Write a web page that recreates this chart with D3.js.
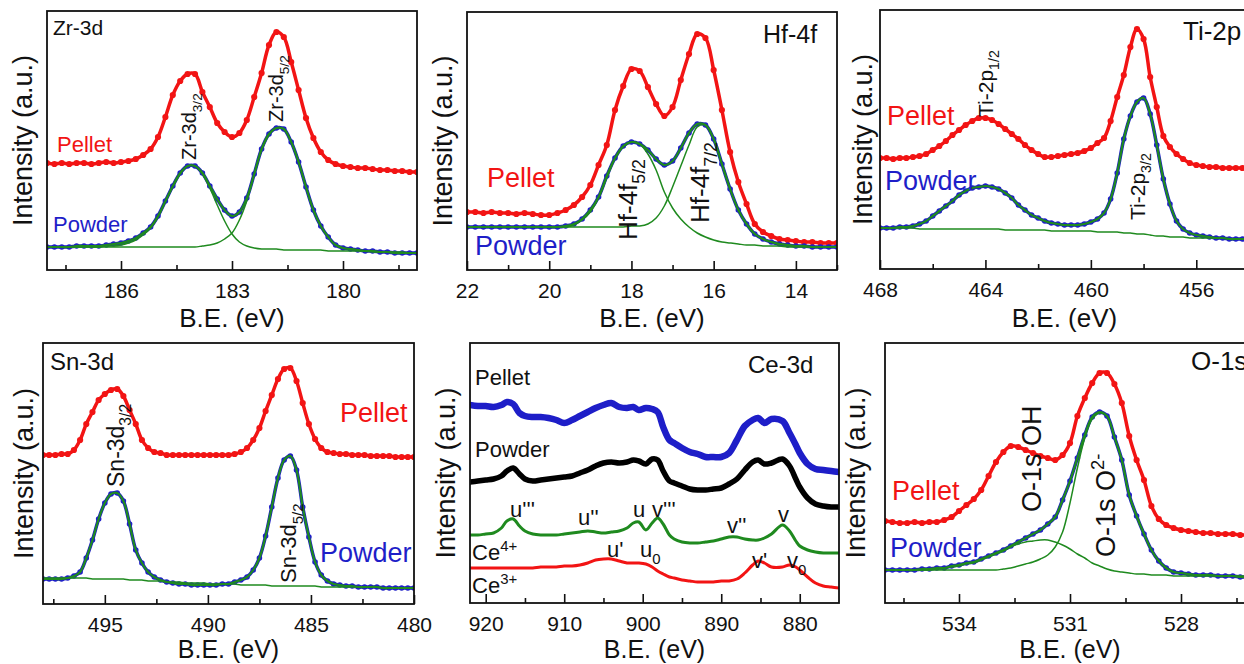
<!DOCTYPE html>
<html>
<head>
<meta charset="utf-8">
<script src="https://cdn.jsdelivr.net/npm/d3@7"></script>
<style>
  body { margin: 0; background: #fff; }
  svg  { display: block; font-family: "Liberation Sans", Arial, sans-serif; }
</style>
</head>
<body>
<svg id="fig" width="1244" height="664"></svg>
<script>
// ----- Data (intensity in arbitrary units) -----

// Zr-3d
const zrBE = [188.0,187.8,187.6,187.4,187.2,187.0,186.8,186.6,186.4,186.2,186.0,185.8,185.6,185.4,185.2,185.0,184.8,184.6,184.4,184.2,184.0,183.8,183.6,183.4,183.2,183.0,182.8,182.6,182.4,182.2,182.0,181.8,181.6,181.4,181.2,181.0,180.8,180.6,180.4,180.2,180.0,179.8,179.6,179.4,179.2,179.0,178.8,178.6,178.4,178.2,178.0];
const zrPellet = [107,106,107,106,107,107,106,107,108,107, 108,109,111,115,121,133,153,175,189,196, 196,178,163,147,138,133,137,150,173,197, 225,238,233,208,180,152,132,118,110,106, 104,103,102,102,101,100,100,99,99,98,98];
const zrPowder = [23,23,23,23,24,24,24,24,25,26, 27,29,32,37,43,54,69,84,97,104, 104,97,84,71,60,54,58,72,96,121, 136,142,141,128,108,83,60,44,33,25, 22,21,20,19,19,18,18,17,17,17,17];
const zrPeak32 = [23,23,23,23,23,23,23,23,24,24, 25,27,30,35,42,53,68,83,96,104, 104,96,82,65,49,36,28,24,22,21, 21,21,20,20,20,20,20,20,19,19, 19,19,19,19,18,18,18,18,18,17,17];
const zrPeak52 = [23,23,23,23,23,23,23,23,23,23, 23,23,23,23,23,23,23,23,23,23, 23,24,25,27,31,37,50,69,95,120, 135,142,141,128,108,83,60,44,33,25, 22,21,20,19,19,18,18,17,17,17,17];
const zrMajor = [186, 183, 180];
const zrMinor = [187.5, 184.5, 181.5, 178.5];

// Hf-4f
const hfBE = [22.0,21.8,21.6,21.4,21.2,21.0,20.8,20.6,20.4,20.2,20.0,19.8,19.6,19.4,19.2,19.0,18.8,18.6,18.4,18.2,18.0,17.8,17.6,17.4,17.2,17.0,16.8,16.6,16.4,16.2,16.0,15.8,15.6,15.4,15.2,15.0,14.8,14.6,14.4,14.2,14.0,13.8,13.6,13.4,13.2,13.0];
const hfPellet = [58,58,57,58,57,57,56,57,56,55, 55,57,60,65,73,85,105,125,160,184, 201,199,183,166,154,163,190,216,236,232, 200,160,118,88,66,46,38,34,31,30, 29,28,28,27,27,27];
const hfPowder = [43,43,43,43,43,43,43,43,43,43, 43,43,44,46,51,60,73,94,112,124, 128,126,120,111,105,109,122,137,146,145, 131,106,81,60,46,36,31,28,26,25, 24,24,23,23,23,23];
const hfPeak52 = [43,43,43,43,43,43,43,43,43,43, 43,43,43,45,50,58,72,92,111,123, 128,126,116,100,78,62,51,43,37,33, 30,28,27,26,25,25,24,24,24,23, 23,23,23,23,23,23];
const hfPeak72 = [43,43,43,43,43,43,43,43,43,43, 43,43,43,43,43,43,43,43,43,43, 44,44,46,52,64,83,104,125,143,145, 131,106,81,60,46,36,31,28,26,25, 24,24,23,23,23,23];
const hfMajor = [22, 20, 18, 16, 14];
const hfMinor = [21, 19, 17, 15, 13];

// Ti-2p
const tiBE = [468.0,467.75,467.5,467.25,467.0,466.75,466.5,466.25,466.0,465.75,465.5,465.25,465.0,464.75,464.5,464.25,464.0,463.75,463.5,463.25,463.0,462.75,462.5,462.25,462.0,461.75,461.5,461.25,461.0,460.75,460.5,460.25,460.0,459.75,459.5,459.25,459.0,458.75,458.5,458.25,458.0,457.75,457.5,457.25,457.0,456.75,456.5,456.25,456.0,455.75,455.5,455.25,455.0,454.75,454.5,454.25,454.0];
const tiPellet = [111,111,110,111,111,112,113,115,119,123, 128,134,139,144,148,151,151,149,145,140, 135,130,124,119,115,112,112,113,114,115, 116,118,121,126,131,148,172,194,222,240, 230,192,162,133,122,115,110,106,104,103, 102,102,101,101,101,101,101];
const tiPowder = [41,41,41,42,42,43,45,48,53,58, 63,68,74,78,81,82,83,82,80,76, 71,64,59,54,51,48,46,45,44,44, 44,45,47,50,56,70,96,130,153,167, 171,155,124,90,65,48,40,36,34,33, 32,31,31,30,30,30,30];
const tiBackground = [41,41,41,41,41,41,40,40,40,40, 40,40,40,40,40,40,40,40,40,39, 39,39,39,39,39,39,38,38,38,38, 38,38,38,37,37,37,37,36,36,35, 35,34,33,33,32,32,32,31,31,31, 31,31,31,30,30,30,30];
const tiMajor = [468, 464, 460, 456];
const tiMinor = [466, 462, 458, 454];

// Sn-3d
const snBE = [498.0,497.7,497.4,497.1,496.8,496.5,496.2,495.9,495.6,495.3,495.0,494.7,494.4,494.1,493.8,493.5,493.2,492.9,492.6,492.3,492.0,491.7,491.4,491.1,490.8,490.5,490.2,489.9,489.6,489.3,489.0,488.7,488.4,488.1,487.8,487.5,487.2,486.9,486.6,486.3,486.0,485.7,485.4,485.1,484.8,484.5,484.2,483.9,483.6,483.3,483.0,482.7,482.4,482.1,481.8,481.5,481.2,480.9,480.6,480.3,480.0];
const snPellet = [149,149,149,150,150,154,164,180,192,204, 210,214,215,208,194,180,164,156,152,151, 149,149,149,149,149,149,149,149,149,149, 149,150,152,156,164,176,193,209,225,235, 236,223,201,180,165,156,152,151,150,150, 149,149,149,148,148,148,148,147,147,147,147];
const snPowder = [25,25,25,25,26,28,32,46,64,85, 101,110,111,103,80,54,41,32,27,24, 22,21,20,20,19,19,19,19,19,20, 20,22,24,27,34,46,68,97,126,144, 148,134,97,67,42,29,23,20,19,18, 18,17,17,17,17,16,16,16,16,16,16];
const snBackground = [26,26,26,26,26,26,26,26,25,25, 25,25,25,25,24,24,24,23,23,23, 22,22,22,21,21,21,21,20,20,20, 20,20,19,19,19,19,19,18,18,18, 18,18,18,18,18,17,17,17,17,17, 17,17,17,17,17,16,16,16,16,16,16];
const snMajor = [495, 490, 485, 480];
const snMinor = [497.5, 492.5, 487.5, 482.5];

// Ce-3d
const ceBE = [922,921,920,919,918,917.3,916.5,915.7,915,914, 913,912,911,910,909,908,907,906,905,904, 903,902,901.2,900.5,899.6,898.8,898.1,897.4,896.6,896, 895,894,893,892,891,890,889,888,887,886, 885.3,884.5,883.6,882.2,881.3,880.5,880,879,878,877, 876,875];
const cePellet = [198,197,197,196,198,201,199,190,187,186, 186,185,183,180,183,187,191,195,198,200, 196,195,196,193,195,194,191,176,163,160, 155,151,149,146,146,146,150,163,177,183, 185,180,184,182,170,158,150,139,134,133, 132,131];
const cePowder = [121,122,123,124,127,132,135,129,124,122, 123,124,125,126,127,130,133,137,140,141, 140,141,143,142,139,144,143,132,122,120, 117,114,113,113,114,115,119,124,133,141, 143,139,140,144,137,124,116,105,99,97, 96,96];
const ceCe4 = [68,68,69,70,75,82,84,77,72,69, 68,68,68,69,70,71,72,71,70,71, 72,75,80,81,73,80,85,79,68,64, 61,60,60,61,62,64,66,66,64,63, 63,65,69,78,72,62,57,53,51,50, 50,50];
const ceCe3 = [35,35,35,35,35,35,35,35,35,35, 36,36,36,37,37,38,40,43,44,44, 42,40,40,40,39,36,32,29,26,25, 23,22,21,21,21,22,22,24,30,38, 42,40,36,36,38,36,33,26,20,17, 16,15];
const ceMajor = [920, 910, 900, 890, 880];
const ceMinor = [915, 905, 895, 885];

// O-1s
const oBE = [536.0,535.8,535.6,535.4,535.2,535.0,534.8,534.6,534.4,534.2,534.0,533.8,533.6,533.4,533.2,533.0,532.8,532.6,532.4,532.2,532.0,531.8,531.6,531.4,531.2,531.0,530.8,530.6,530.4,530.2,530.0,529.8,529.6,529.4,529.2,529.0,528.8,528.6,528.4,528.2,528.0,527.8,527.6,527.4,527.2,527.0,526.8,526.6,526.4,526.2,526.0];
const oPellet = [82,81,80,80,81,80,81,81,83,86, 92,98,104,113,127,141,151,157,156,153, 150,147,145,143,148,160,187,205,220,230, 230,219,200,167,143,123,97,84,78,75, 73,72,71,70,70,69,69,69,68,68,68];
const oPowder = [33,33,33,33,33,34,34,35,35,37, 38,40,41,44,47,50,53,57,61,65, 69,73,79,86,103,122,145,168,186,191, 187,166,143,108,87,69,53,42,35,31, 30,29,28,28,28,27,27,27,26,26,26];
const oPeakOH = [33,33,33,33,33,33,33,34,35,36, 37,39,40,43,46,49,52,56,59,61, 62,63,63,61,58,54,49,45,40,37, 34,32,31,30,29,29,28,28,28,27, 27,27,27,27,27,27,27,27,27,27,27];
const oPeakO2 = [33,33,33,33,33,33,33,33,33,33, 33,33,33,33,33,33,34,35,37,39, 41,44,48,56,71,100,135,165,184,190, 187,166,143,108,87,69,53,42,35,31, 30,29,28,28,28,27,27,27,26,26,26];
const oMajor = [534, 531, 528];
const oMinor = [535.5, 532.5, 529.5, 526.5];

// ----- Styles -----
const RED   = "#f21414";
const BLUE  = "#1e1ec8";
const GREEN = "#1f8a1f";
const INK   = "#111111";

const svg = d3.select("#fig");

// ---------- Text helper ----------
// parts: [text, "sub" | "sup" | undefined]
function addText(opt) {
  const t = svg.append("text")
    .attr("font-size", opt.size)
    .attr("fill", opt.color || INK)
    .attr("text-anchor", opt.anchor || "start");

  if (opt.rotate) {
    t.attr("transform", `translate(${opt.x},${opt.y}) rotate(-90)`);
  } else {
    t.attr("x", opt.x).attr("y", opt.y);
  }

  const parts = typeof opt.text === "string" ? [[opt.text]] : opt.text;
  let shift = 0;
  parts.forEach(([str, kind]) => {
    const sp = t.append("tspan").text(str);
    let target = 0;
    if (kind === "sub") target = 0.3 * opt.size;
    if (kind === "sup") target = -0.4 * opt.size;
    if (kind) sp.attr("font-size", opt.size * 0.68);
    if (target !== shift) {
      sp.attr("dy", target - shift);
      shift = target;
    }
  });
  return t;
}

// ---------- Panel ----------
function drawPanel(p) {
  const g = svg.append("g").attr("transform", `translate(${p.x},${p.y})`);

  const x = d3.scaleLinear().domain(p.domain).range([0, p.w]);
  const y = d3.scaleLinear().domain([0, p.h]).range([p.h, 0]);

  const clipId = "clip-" + p.id;
  g.append("clipPath").attr("id", clipId)
    .append("rect").attr("width", p.w).attr("height", p.h);

  const plot = g.append("g").attr("clip-path", `url(#${clipId})`);

  const line = d3.line()
    .x(d => x(d[0]))
    .y(d => y(d[1]))
    .curve(d3.curveCatmullRom.alpha(0.5));

  p.series.forEach(s => {
    const pts = p.be.map((b, i) => [b, s.values[i]]);

    plot.append("path")
      .datum(pts)
      .attr("d", line)
      .attr("fill", "none")
      .attr("stroke", s.color)
      .attr("stroke-width", s.width)
      .attr("stroke-linejoin", "round")
      .attr("stroke-linecap", "round");

    if (s.dots) {
      plot.append("g")
        .selectAll("circle")
        .data(pts)
        .enter()
        .append("circle")
        .attr("cx", d => x(d[0]))
        .attr("cy", d => y(d[1]))
        .attr("r", s.dots)
        .attr("fill", s.color);
    }
  });

  // major ticks + labels
  const major = g.append("g")
    .attr("transform", `translate(0,${p.h})`)
    .call(d3.axisBottom(x).tickValues(p.major).tickSize(-9).tickPadding(13)
      .tickFormat(d3.format("d")));
  major.select(".domain").remove();
  major.selectAll("line").attr("stroke", INK).attr("stroke-width", 1.6);
  major.selectAll("text")
    .attr("font-size", 21)
    .attr("font-family", "Liberation Sans, Arial, sans-serif")
    .attr("fill", INK);

  // minor ticks
  const minor = g.append("g")
    .attr("transform", `translate(0,${p.h})`)
    .call(d3.axisBottom(x).tickValues(p.minor).tickSize(-5).tickFormat(""));
  minor.select(".domain").remove();
  minor.selectAll("line").attr("stroke", INK).attr("stroke-width", 1.6);

  // frame
  g.append("rect")
    .attr("width", p.w)
    .attr("height", p.h)
    .attr("fill", "none")
    .attr("stroke", INK)
    .attr("stroke-width", 1.8);

  // axis titles
  addText({ text: "B.E. (eV)", x: p.x + p.w / 2, y: p.xLabelY, size: p.xLabelSize, anchor: "middle" });
  addText({ text: "Intensity (a.u.)", x: p.yLabelX, y: p.y + p.h / 2, size: 27, anchor: "middle", rotate: true });

  p.labels.forEach(addText);
}

// ---------- Panels ----------
const panels = [
  {
    id: "zr", x: 47, y: 11, w: 370, h: 259, domain: [188, 178],
    be: zrBE, major: zrMajor, minor: zrMinor, yLabelX: 32, xLabelY: 327, xLabelSize: 26,
    series: [
      { values: zrPellet, color: RED,   width: 3.5, dots: 3.1 },
      { values: zrPowder, color: BLUE,  width: 3.5, dots: 2.8 },
      { values: zrPeak32, color: GREEN, width: 1.5 },
      { values: zrPeak52, color: GREEN, width: 1.5 },
      { values: zrPowder, color: GREEN, width: 2.2 }
    ],
    labels: [
      { text: "Zr-3d", x: 53, y: 35, size: 21 },
      { text: "Pellet", x: 57, y: 152, size: 22, color: RED },
      { text: "Powder", x: 53, y: 232, size: 22, color: BLUE },
      { text: [["Zr-3d"], ["3/2", "sub"]], x: 196, y: 160, size: 20, rotate: true },
      { text: [["Zr-3d"], ["5/2", "sub"]], x: 283, y: 122, size: 20, rotate: true }
    ]
  },
  {
    id: "hf", x: 467, y: 12, w: 370, h: 258, domain: [22, 13],
    be: hfBE, major: hfMajor, minor: hfMinor, yLabelX: 452, xLabelY: 327, xLabelSize: 26,
    series: [
      { values: hfPellet, color: RED,   width: 3.5, dots: 3.1 },
      { values: hfPowder, color: BLUE,  width: 3.5, dots: 2.8 },
      { values: hfPeak52, color: GREEN, width: 1.5 },
      { values: hfPeak72, color: GREEN, width: 1.5 },
      { values: hfPowder, color: GREEN, width: 2.2 }
    ],
    labels: [
      { text: "Hf-4f", x: 763, y: 43, size: 25 },
      { text: "Pellet", x: 487, y: 187, size: 27, color: RED },
      { text: "Powder", x: 475, y: 255, size: 27, color: BLUE },
      { text: [["Hf-4f"], ["5/2", "sub"]], x: 637, y: 240, size: 26, rotate: true },
      { text: [["Hf-4f"], ["7/2", "sub"]], x: 709, y: 223, size: 26, rotate: true }
    ]
  },
  {
    id: "ti", x: 880, y: 10, w: 369, h: 259, domain: [468, 454],
    be: tiBE, major: tiMajor, minor: tiMinor, yLabelX: 872, xLabelY: 327, xLabelSize: 26,
    series: [
      { values: tiPellet,     color: RED,   width: 3.5, dots: 3.1 },
      { values: tiPowder,     color: BLUE,  width: 3.5, dots: 2.8 },
      { values: tiBackground, color: GREEN, width: 1.5 },
      { values: tiPowder,     color: GREEN, width: 2.2 }
    ],
    labels: [
      { text: "Ti-2p", x: 1183, y: 40, size: 26 },
      { text: "Pellet", x: 887, y: 125, size: 27, color: RED },
      { text: "Powder", x: 885, y: 190, size: 27, color: BLUE },
      { text: [["Ti-2p"], ["1/2", "sub"]], x: 993, y: 117, size: 21, rotate: true },
      { text: [["Ti-2p"], ["3/2", "sub"]], x: 1145, y: 220, size: 21, rotate: true }
    ]
  },
  {
    id: "sn", x: 43, y: 343, w: 371, h: 261, domain: [498, 480],
    be: snBE, major: snMajor, minor: snMinor, yLabelX: 33, xLabelY: 658, xLabelSize: 25,
    series: [
      { values: snPellet,     color: RED,   width: 3.5, dots: 3.1 },
      { values: snPowder,     color: BLUE,  width: 3.5, dots: 2.8 },
      { values: snBackground, color: GREEN, width: 1.5 },
      { values: snPowder,     color: GREEN, width: 2.2 }
    ],
    labels: [
      { text: "Sn-3d", x: 50, y: 370, size: 24 },
      { text: "Pellet", x: 340, y: 422, size: 27, color: RED },
      { text: "Powder", x: 320, y: 562, size: 27, color: BLUE },
      { text: [["Sn-3d"], ["3/2", "sub"]], x: 124, y: 487, size: 23, rotate: true },
      { text: [["Sn-3d"], ["5/2", "sub"]], x: 296, y: 583, size: 22, rotate: true }
    ]
  },
  {
    id: "ce", x: 470, y: 343, w: 369, h: 260, domain: [922, 875],
    be: ceBE, major: ceMajor, minor: ceMinor, yLabelX: 455, xLabelY: 658, xLabelSize: 25,
    series: [
      { values: cePellet, color: BLUE,   width: 6.5 },
      { values: cePowder, color: "#000", width: 5.5 },
      { values: ceCe4,    color: GREEN,  width: 3 },
      { values: ceCe3,    color: RED,    width: 3 }
    ],
    labels: [
      { text: "Ce-3d", x: 748, y: 373, size: 24 },
      { text: "Pellet", x: 475, y: 385, size: 22 },
      { text: "Powder", x: 475, y: 457, size: 22 },
      { text: [["Ce"], ["4+", "sup"]], x: 472, y: 560, size: 22 },
      { text: [["Ce"], ["3+", "sup"]], x: 472, y: 593, size: 22 },
      { text: "u'''", x: 510, y: 517, size: 22 },
      { text: "u''",  x: 578, y: 525, size: 22 },
      { text: "u",    x: 633, y: 517, size: 22 },
      { text: "v'''", x: 652, y: 517, size: 22 },
      { text: "v''",  x: 727, y: 533, size: 22 },
      { text: "v",    x: 778, y: 522, size: 22 },
      { text: "u'",   x: 607, y: 557, size: 22 },
      { text: [["u"], ["0", "sub"]], x: 640, y: 557, size: 22 },
      { text: "v'",   x: 752, y: 568, size: 22 },
      { text: [["v"], ["0", "sub"]], x: 787, y: 568, size: 22 }
    ]
  },
  {
    id: "o", x: 885, y: 343, w: 370, h: 260, domain: [536, 526],
    be: oBE, major: oMajor, minor: oMinor, yLabelX: 865, xLabelY: 658, xLabelSize: 25,
    series: [
      { values: oPellet, color: RED,   width: 3.5, dots: 3.1 },
      { values: oPowder, color: BLUE,  width: 3.5, dots: 2.8 },
      { values: oPeakOH, color: GREEN, width: 1.5 },
      { values: oPeakO2, color: GREEN, width: 1.5 },
      { values: oPowder, color: GREEN, width: 2.2 }
    ],
    labels: [
      { text: "O-1s", x: 1191, y: 370, size: 26 },
      { text: "Pellet", x: 892, y: 500, size: 27, color: RED },
      { text: "Powder", x: 890, y: 557, size: 27, color: BLUE },
      { text: "O-1s OH", x: 1041, y: 512, size: 27, rotate: true },
      { text: [["O-1s O"], ["2-", "sup"]], x: 1115, y: 557, size: 27, rotate: true }
    ]
  }
];

panels.forEach(drawPanel);
</script>
</body>
</html>
